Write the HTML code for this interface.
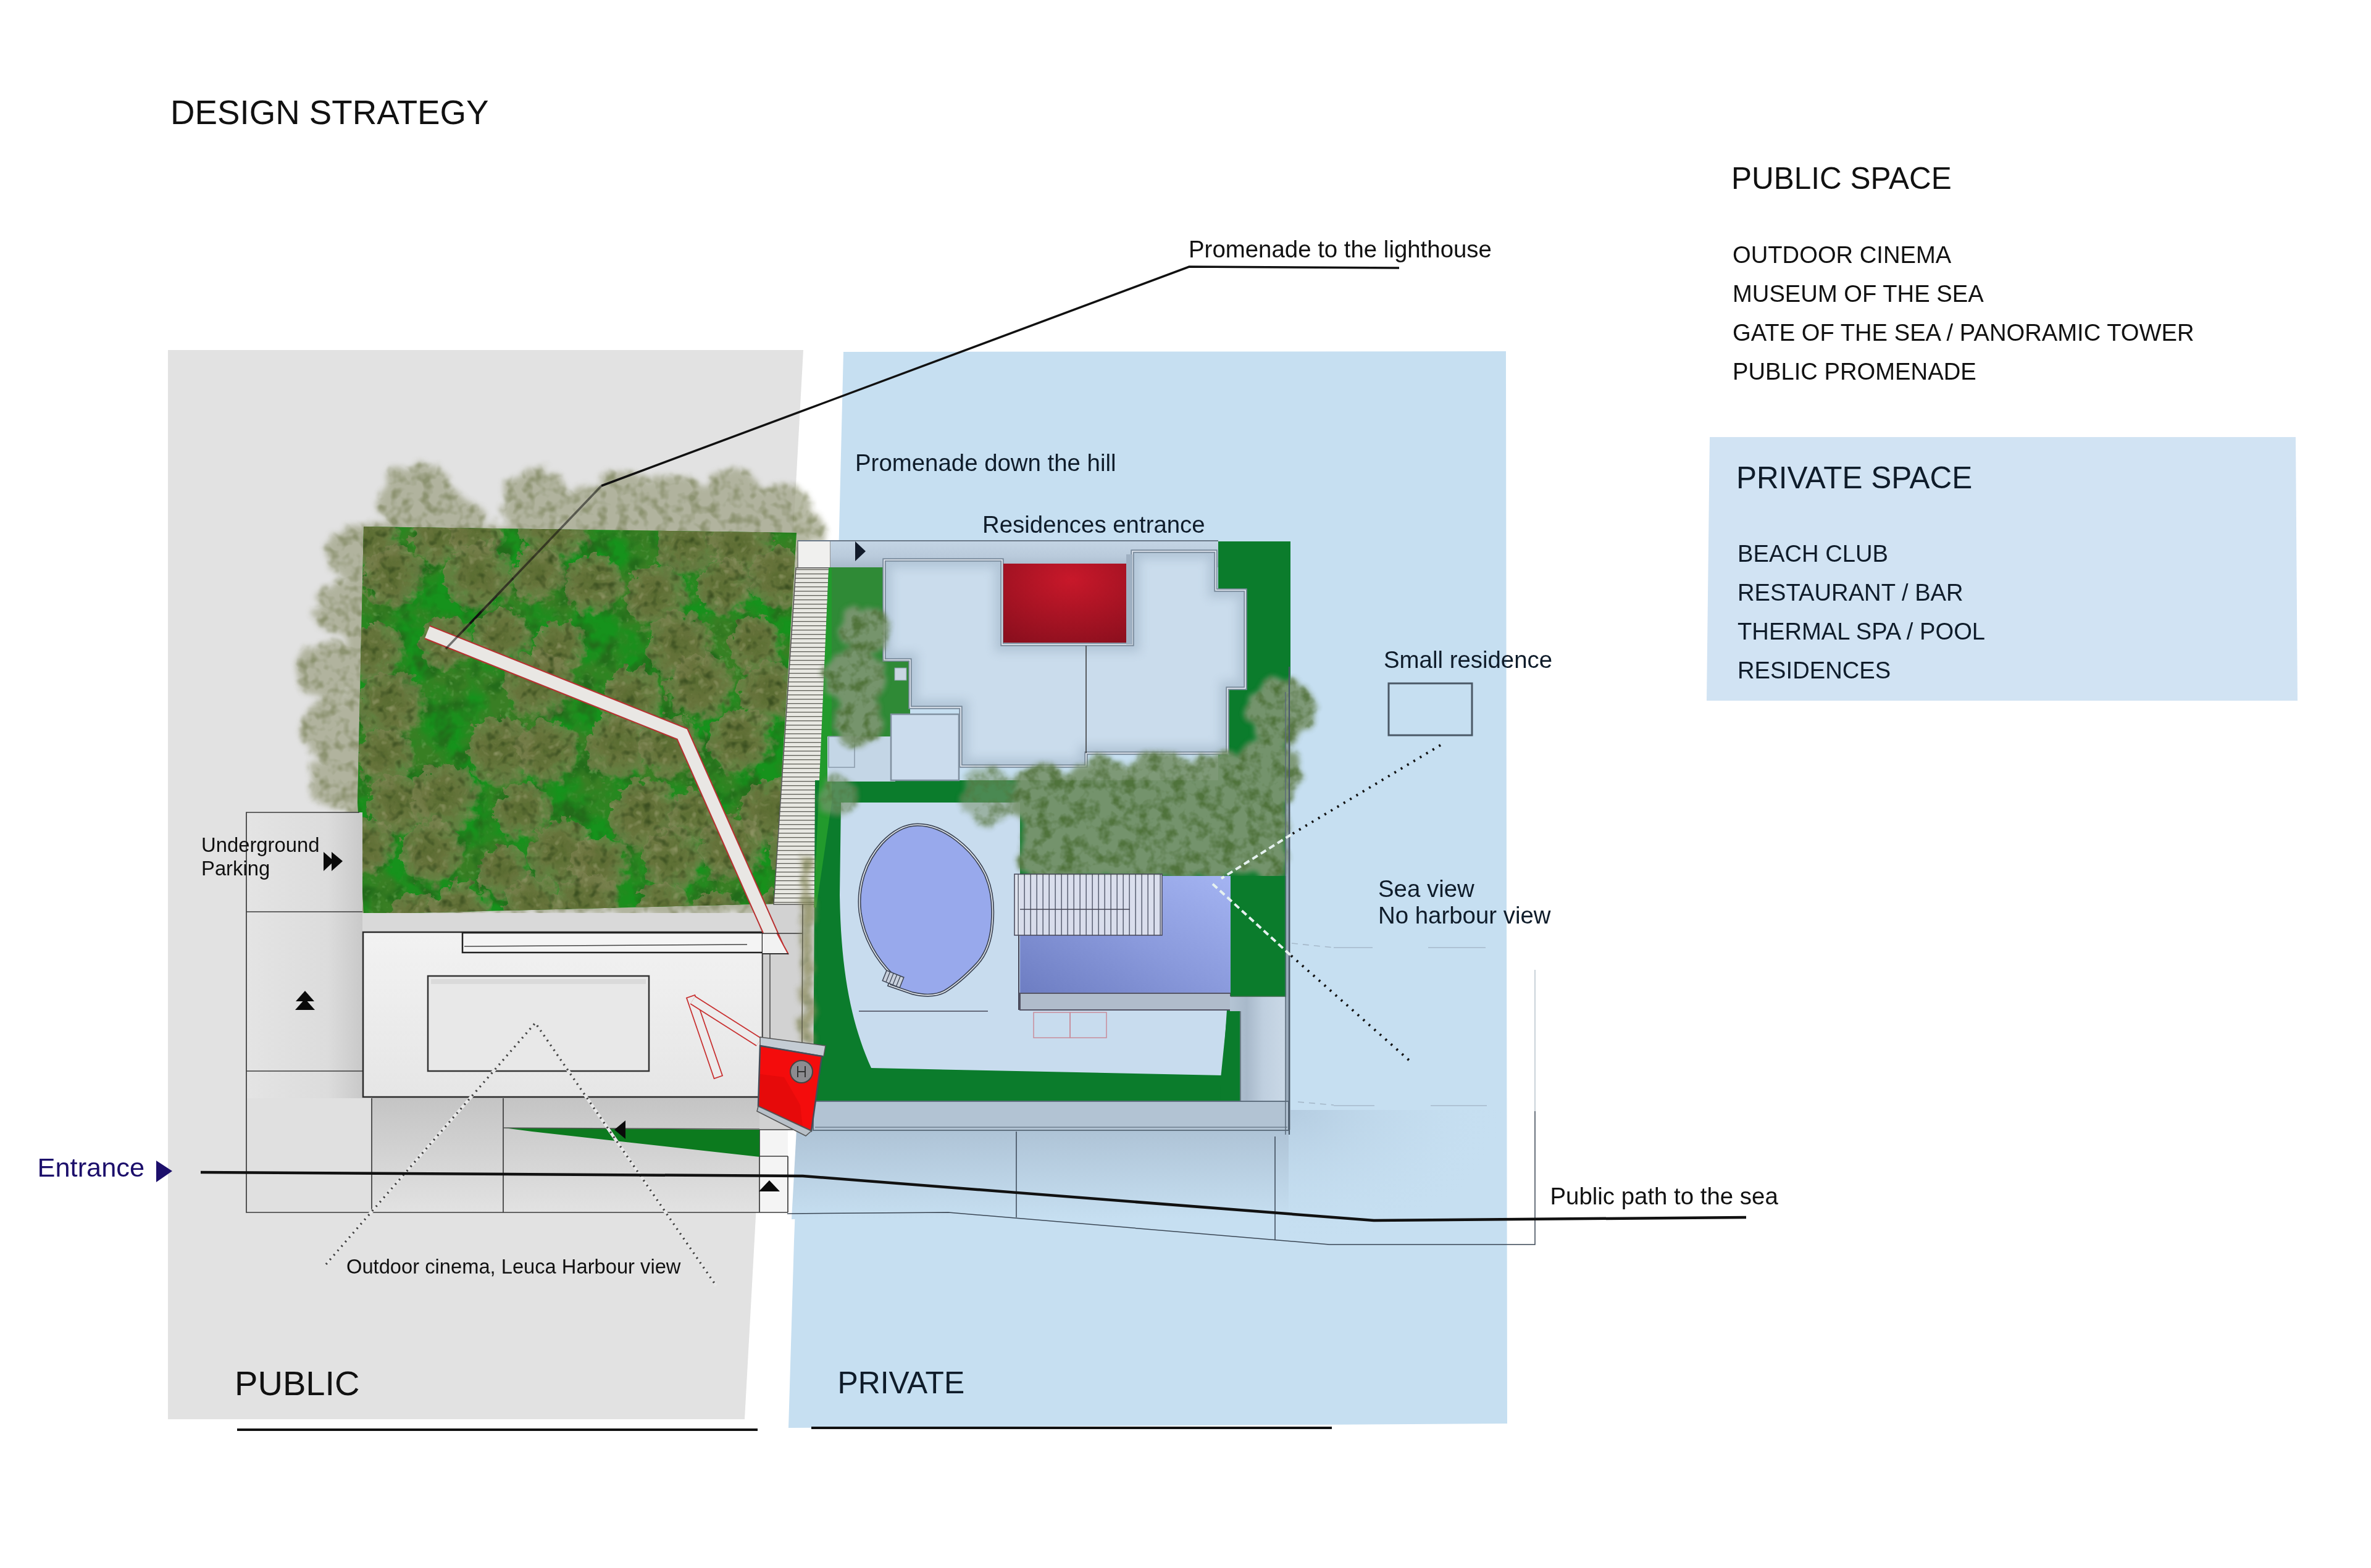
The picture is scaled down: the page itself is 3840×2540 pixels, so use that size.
<!DOCTYPE html>
<html><head><meta charset="utf-8"><title>Design Strategy</title>
<style>
html,body{margin:0;padding:0;background:#fff;width:3840px;height:2540px;overflow:hidden}
svg{display:block}
text{font-family:"Liberation Sans",sans-serif}
</style></head><body>
<svg width="3840" height="2540" viewBox="0 0 3840 2540">
<defs>
  <filter id="fol" x="0" y="0" width="100%" height="100%" filterUnits="userSpaceOnUse" color-interpolation-filters="sRGB">
    <feTurbulence type="fractalNoise" baseFrequency="0.018" numOctaves="5" seed="7" result="n"/>
    <feColorMatrix in="n" type="matrix" values="0 0 0 0 0.45  0 0 0 0 0.48  0 0 0 0 0.28  0 0 0 2.2 -0.75" result="c"/>
    <feComposite in="c" in2="SourceGraphic" operator="in"/>
  </filter>
  <radialGradient id="redg" cx="0.55" cy="0.2" r="0.9">
    <stop offset="0" stop-color="#c8182a"/><stop offset="1" stop-color="#8c0f1e"/>
  </radialGradient>
  <linearGradient id="spag" x1="0" y1="0" x2="1" y2="0">
    <stop offset="0" stop-color="#6f80c2"/><stop offset="1" stop-color="#a3b3f0"/>
  </linearGradient>
</defs>

<!-- background zones -->
<polygon points="272,567 1301,567 1206,2299 272,2299" fill="#e2e2e2"/>
<polygon points="1366,570 2439,569 2441,2306 1277,2313 1286,2010 1293,1830 1358.7,873" fill="#c6dff1"/>
<polygon points="2769,708 3718,708 3721,1135 2764,1135" fill="#d1e3f3"/>



<!-- ===== TREES / GREEN SQUARE ===== -->
<defs>
  <filter id="fol2" x="400" y="700" width="1000" height="850" filterUnits="userSpaceOnUse" color-interpolation-filters="sRGB">
    <feTurbulence type="fractalNoise" baseFrequency="0.014" numOctaves="4" seed="11" result="n"/>
    <feColorMatrix in="n" type="matrix" values="0 0 0 0 0.34  0 0 0 0 0.43  0 0 0 0 0.17  0 0 0 3.0 -1.05" result="c"/>
    <feComposite in="c" in2="SourceGraphic" operator="in" result="olive"/>
    <feTurbulence type="fractalNoise" baseFrequency="0.03" numOctaves="3" seed="5" result="nd"/>
    <feColorMatrix in="nd" type="matrix" values="0 0 0 0 0.18  0 0 0 0 0.30  0 0 0 0 0.10  0 0 0 3.4 -1.6" result="dk"/>
    <feComposite in="dk" in2="SourceGraphic" operator="in" result="dark"/>
    <feTurbulence type="fractalNoise" baseFrequency="0.11" numOctaves="2" seed="4" result="n2"/>
    <feColorMatrix in="n2" type="matrix" values="0 0 0 0 0.55  0 0 0 0 0.60  0 0 0 0 0.40  0 0 0 3.5 -2.0" result="c2"/>
    <feComposite in="c2" in2="olive" operator="in" result="speck"/>
    <feMerge><feMergeNode in="olive"/><feMergeNode in="dark"/><feMergeNode in="speck"/></feMerge>
  </filter>
  <filter id="canopy" x="400" y="700" width="1000" height="1100" filterUnits="userSpaceOnUse" color-interpolation-filters="sRGB">
    <feTurbulence type="fractalNoise" baseFrequency="0.04" numOctaves="3" seed="2" result="n"/>
    <feDisplacementMap in="SourceGraphic" in2="n" scale="30" xChannelSelector="R" yChannelSelector="G" result="d"/>
    <feGaussianBlur in="d" stdDeviation="5" result="b"/>
    <feTurbulence type="fractalNoise" baseFrequency="0.06" numOctaves="2" seed="9" result="n3"/>
    <feColorMatrix in="n3" type="matrix" values="0 0 0 0 0.46  0 0 0 0 0.49  0 0 0 0 0.32  0 0 0 3 -1.35" result="lt"/>
    <feComposite in="lt" in2="b" operator="in" result="lt2"/>
    <feMerge><feMergeNode in="b"/><feMergeNode in="lt2"/></feMerge>
  </filter>
  <clipPath id="sqclip"><polygon points="589,853 1290,863 1253,1464 589,1481 579,1300"/></clipPath>
</defs>
<g filter="url(#canopy)" fill="#a4a78c" opacity="0.78">
  <circle cx="676" cy="812" r="62"/>
  <circle cx="745" cy="845" r="40"/>
  <circle cx="870" cy="812" r="55"/>
  <circle cx="960" cy="830" r="45"/>
  <circle cx="1010" cy="812" r="52"/>
  <circle cx="1092" cy="822" r="55"/>
  <circle cx="1185" cy="818" r="56"/>
  <circle cx="1262" cy="832" r="50"/>
  <circle cx="1305" cy="858" r="28"/>
  <circle cx="568" cy="900" r="40"/>
  <circle cx="552" cy="985" r="44"/>
  <circle cx="532" cy="1085" r="50"/>
  <circle cx="540" cy="1180" r="50"/>
  <circle cx="548" cy="1265" r="45"/>
  <circle cx="600" cy="1300" r="40"/>
  <rect x="560" y="850" width="740" height="630"/>
</g>
<polygon points="589,853 1290,863 1253,1464 589,1481 579,1300" fill="#16921c"/>
<defs>
  <radialGradient id="crown" cx="0.45" cy="0.45" r="0.55">
    <stop offset="0" stop-color="#5c6a32" stop-opacity="0.95"/>
    <stop offset="0.45" stop-color="#6c733e" stop-opacity="0.92"/>
    <stop offset="0.8" stop-color="#7c8050" stop-opacity="0.7"/>
    <stop offset="1" stop-color="#8a8c60" stop-opacity="0"/>
  </radialGradient>
  <filter id="crownf" x="500" y="780" width="850" height="760" filterUnits="userSpaceOnUse" color-interpolation-filters="sRGB">
    <feTurbulence type="fractalNoise" baseFrequency="0.06" numOctaves="3" seed="3" result="n"/>
    <feDisplacementMap in="SourceGraphic" in2="n" scale="34" xChannelSelector="R" yChannelSelector="G" result="d"/>
    <feTurbulence type="fractalNoise" baseFrequency="0.07" numOctaves="2" seed="14" result="n2"/>
    <feColorMatrix in="n2" type="matrix" values="0 0 0 0 0.58  0 0 0 0 0.60  0 0 0 0 0.42  0 0 0 3.0 -1.85" result="c2"/>
    <feComposite in="c2" in2="d" operator="in" result="speck"/>
    <feColorMatrix in="n2" type="matrix" values="0 0 0 0 0.22  0 0 0 0 0.30  0 0 0 0 0.12  0 0 0 -3.2 1.45" result="c3"/>
    <feComposite in="c3" in2="d" operator="in" result="shade"/>
    <feMerge><feMergeNode in="d"/><feMergeNode in="shade"/><feMergeNode in="speck"/></feMerge>
  </filter>
</defs>
<g clip-path="url(#sqclip)">
  <rect x="560" y="840" width="760" height="660" fill="#fff" filter="url(#fol2)" opacity="0.55"/>
  <line x1="722" y1="1051" x2="974" y2="787" stroke="#111" stroke-width="3.5"/>
  <g fill="url(#crown)" filter="url(#crownf)">
<circle cx="601" cy="878" r="49"/>
<circle cx="715" cy="874" r="46"/>
<circle cx="774" cy="860" r="48"/>
<circle cx="900" cy="857" r="59"/>
<circle cx="1118" cy="882" r="55"/>
<circle cx="1203" cy="885" r="53"/>
<circle cx="639" cy="935" r="52"/>
<circle cx="778" cy="937" r="57"/>
<circle cx="874" cy="932" r="45"/>
<circle cx="964" cy="947" r="50"/>
<circle cx="1065" cy="969" r="53"/>
<circle cx="1176" cy="954" r="48"/>
<circle cx="1266" cy="939" r="53"/>
<circle cx="609" cy="1059" r="49"/>
<circle cx="723" cy="1044" r="44"/>
<circle cx="814" cy="1034" r="48"/>
<circle cx="907" cy="1051" r="45"/>
<circle cx="1104" cy="1049" r="56"/>
<circle cx="1226" cy="1045" r="47"/>
<circle cx="634" cy="1144" r="57"/>
<circle cx="874" cy="1111" r="57"/>
<circle cx="1027" cy="1135" r="53"/>
<circle cx="1137" cy="1114" r="56"/>
<circle cx="1249" cy="1124" r="53"/>
<circle cx="626" cy="1228" r="49"/>
<circle cx="814" cy="1220" r="58"/>
<circle cx="890" cy="1220" r="53"/>
<circle cx="1006" cy="1211" r="56"/>
<circle cx="1089" cy="1211" r="52"/>
<circle cx="1201" cy="1203" r="55"/>
<circle cx="647" cy="1305" r="52"/>
<circle cx="723" cy="1295" r="57"/>
<circle cx="848" cy="1316" r="48"/>
<circle cx="1048" cy="1323" r="60"/>
<circle cx="1128" cy="1323" r="44"/>
<circle cx="1252" cy="1316" r="54"/>
<circle cx="596" cy="1374" r="47"/>
<circle cx="702" cy="1383" r="53"/>
<circle cx="818" cy="1414" r="44"/>
<circle cx="914" cy="1386" r="57"/>
<circle cx="974" cy="1403" r="49"/>
<circle cx="1091" cy="1395" r="52"/>
<circle cx="1188" cy="1376" r="55"/>
<circle cx="1289" cy="1380" r="47"/>
<circle cx="677" cy="1494" r="49"/>
<circle cx="746" cy="1482" r="52"/>
<circle cx="865" cy="1466" r="47"/>
<circle cx="952" cy="1473" r="58"/>
<circle cx="1076" cy="1477" r="47"/>
<circle cx="1162" cy="1493" r="49"/>
<circle cx="1264" cy="1492" r="49"/>
  </g>
</g>

<!-- ===== PUBLIC PLAN ===== -->
<g id="pub">
  <!-- parking base shading -->
  <defs>
    <linearGradient id="park1" x1="0" y1="0" x2="1" y2="0">
      <stop offset="0" stop-color="#e4e4e4"/><stop offset="0.7" stop-color="#dcdcdc"/><stop offset="1" stop-color="#c9c9c9"/>
    </linearGradient>
    <linearGradient id="bldg" x1="0" y1="0" x2="0" y2="1">
      <stop offset="0" stop-color="#f2f2f2"/><stop offset="1" stop-color="#e6e6e6"/>
    </linearGradient>
    <linearGradient id="under" x1="0" y1="0" x2="0" y2="1">
      <stop offset="0" stop-color="#c4c4c4"/><stop offset="1" stop-color="#e2e2e2"/>
    </linearGradient>
  </defs>
  <rect x="399" y="1316" width="188" height="463" fill="url(#park1)"/>
  <rect x="399" y="1779" width="203" height="185" fill="#e0e0e0"/>
  <rect x="587" y="1479" width="700" height="35" fill="#d9d9d9"/>
  <rect x="602" y="1777" width="628" height="187" fill="url(#under)"/>
  <polygon points="1230,1465 1322,1465 1317,1790 1290,1830 1230,1830" fill="#d2d2d2"/>
  <rect x="1230" y="1830" width="46" height="134" fill="#f4f4f4"/>
  <!-- grid lines -->
  <g fill="none" stroke="#3a3a3a" stroke-width="1.7">
    <polyline points="582,1316 399,1316 399,1964 1276,1964"/>
    <line x1="399" y1="1477" x2="587" y2="1477"/>
    <line x1="399" y1="1735" x2="587" y2="1735"/>
    <line x1="602" y1="1779" x2="602" y2="1964"/>
    <line x1="815" y1="1779" x2="815" y2="1964"/>
    <line x1="1230" y1="1830" x2="1230" y2="1964"/>
    <line x1="1276" y1="1873" x2="1276" y2="1964"/>
    <line x1="1230" y1="1873" x2="1276" y2="1873"/>
    <line x1="1230" y1="1830" x2="1285" y2="1830"/>
  </g>
  <!-- building -->
  <rect x="588" y="1510" width="647" height="267" fill="url(#bldg)" stroke="#2a2a2a" stroke-width="2.5"/>
  <rect x="693" y="1581" width="358" height="154" fill="#e8e8e8" stroke="#333" stroke-width="2.5"/>
  <rect x="698" y="1586" width="348" height="8" fill="#d0d0d0" opacity="0.6"/>
  <rect x="749" y="1511" width="486" height="32" fill="#f4f4f4" stroke="#222" stroke-width="2.5"/>
  <line x1="752" y1="1533" x2="1210" y2="1530" stroke="#444" stroke-width="1.5"/>
  <rect x="1235" y="1545" width="12" height="150" fill="#cfcfcf" stroke="#444" stroke-width="1.5"/>
  <!-- green wedge under building -->
  <polygon points="816,1827 1230,1830 1230,1874 862,1833" fill="#0c7a1e"/>
  <line x1="816" y1="1827" x2="1230" y2="1829" stroke="#555" stroke-width="1.5"/>
</g>


<!-- ===== PROMENADE BAR + STAIRS ===== -->
<polyline points="692,1024 1105,1189 1258,1534" fill="none" stroke="#b83030" stroke-width="24" stroke-linejoin="miter"/>
<polyline points="692,1024 1105,1189 1258,1534" fill="none" stroke="#e9e7e4" stroke-width="20" stroke-linejoin="miter"/>
<polygon points="1235,1512 1258,1512 1276,1545 1235,1545" fill="#f2f2f2"/>
<line x1="1258" y1="1511" x2="1277" y2="1546" stroke="#c03030" stroke-width="2"/>
<line x1="1235" y1="1545" x2="1277" y2="1545" stroke="#333" stroke-width="2"/>
<line x1="1235" y1="1512" x2="1300" y2="1512" stroke="#333" stroke-width="1.5"/>
<defs>
  <pattern id="hatch" x="0" y="0" width="20" height="7" patternUnits="userSpaceOnUse">
    <rect width="20" height="7" fill="#e8e8e2"/><rect y="5" width="20" height="1.3" fill="#5e5e56"/>
  </pattern>
  <pattern id="vhatch" x="0" y="0" width="10" height="20" patternUnits="userSpaceOnUse">
    <rect width="10" height="20" fill="#e2e5ee"/><rect x="8.5" width="1.3" height="20" fill="#3c4250"/>
  </pattern>
</defs>
<rect x="1292" y="876" width="53" height="44" fill="#f0f0ee" stroke="#777" stroke-width="1.5"/>
<polygon points="1289,920 1343,920 1320,1465 1253,1465" fill="url(#hatch)"/>
<polygon points="1289,920 1343,920 1320,1465 1253,1465" fill="none" stroke="#555" stroke-width="1.5"/>

<!-- ===== PRIVATE PLAN ===== -->
<defs>
  <linearGradient id="topstrip" x1="0" y1="0" x2="0" y2="1">
    <stop offset="0" stop-color="#c4d5e5"/><stop offset="0.6" stop-color="#b9cadb"/><stop offset="1" stop-color="#a8bacb"/>
  </linearGradient>
  <linearGradient id="spa" x1="0" y1="1" x2="1" y2="0">
    <stop offset="0" stop-color="#6d7dc2"/><stop offset="0.5" stop-color="#8a9adc"/><stop offset="1" stop-color="#a4b4f2"/>
  </linearGradient>
  <linearGradient id="undershadow" x1="0" y1="0" x2="0" y2="1">
    <stop offset="0" stop-color="#aec3d6"/><stop offset="1" stop-color="#c6dff1"/>
  </linearGradient>
  <filter id="fol3" x="1250" y="850" width="950" height="620" filterUnits="userSpaceOnUse" color-interpolation-filters="sRGB">
    <feTurbulence type="fractalNoise" baseFrequency="0.03" numOctaves="4" seed="21" result="n"/>
    <feDisplacementMap in="SourceGraphic" in2="n" scale="26" xChannelSelector="R" yChannelSelector="G" result="d"/>
    <feGaussianBlur in="d" stdDeviation="4" result="b"/>
    <feTurbulence type="fractalNoise" baseFrequency="0.05" numOctaves="3" seed="8" result="n3"/>
    <feColorMatrix in="n3" type="matrix" values="0 0 0 0 0.33  0 0 0 0 0.45  0 0 0 0 0.24  0 0 0 3 -1.3" result="dk"/>
    <feComposite in="dk" in2="b" operator="in" result="dk2"/>
    <feMerge><feMergeNode in="b"/><feMergeNode in="dk2"/></feMerge>
  </filter>
</defs>
<!-- shadow under bottom strip -->
<polygon points="1290,1830 2087,1830 2087,1975 1282,1975" fill="url(#undershadow)"/>
<rect x="2087" y="1798" width="352" height="220" fill="url(#rshadow)"/>
<!-- top strip -->
<rect x="1345" y="876" width="628" height="43" fill="url(#topstrip)"/>
<line x1="1292" y1="876" x2="1973" y2="876" stroke="#6a7888" stroke-width="2"/>
<!-- green areas -->
<polygon points="1973,877 2090,877 2090,1121 2082,1121 2082,1790 1317,1790 1320,1264 1973,1264" fill="#0b7c2c"/>
<rect x="2082" y="1121" width="8" height="709" fill="#9aabbb"/>
<polygon points="1343,919 1432,919 1432,1069 1474,1069 1474,1157 1445,1157 1445,1193 1343,1193" fill="#2f8a36"/>
<rect x="1449" y="1082" width="19" height="20" fill="#c8d6e2" stroke="#8a9aa8" stroke-width="1"/>
<polygon points="1342,920 1347,920 1347,1300 1322,1470 1318,1470" fill="#229a2c"/>
<rect x="1340" y="1193" width="110" height="73" fill="#c4d6e6"/>
<rect x="1342" y="1193" width="42" height="50" fill="none" stroke="#8898a8" stroke-width="1.5"/>
<!-- residence building -->
<polygon points="1432,907 1623,907 1623,1044 1834,1044 1834,893 1969,893 1969,956 2017,956 2017,1115 1988,1115 1988,1220 1759,1220 1759,1241 1556,1241 1556,1146 1474,1146 1474,1069 1432,1069" fill="#cadcec" stroke="#7b8b9c" stroke-width="5"/>
<polygon points="1432,907 1623,907 1623,1044 1834,1044 1834,893 1969,893 1969,956 2017,956 2017,1115 1988,1115 1988,1220 1759,1220 1759,1241 1556,1241 1556,1146 1474,1146 1474,1069 1432,1069" fill="none" stroke="#eef4fa" stroke-width="1.5"/>
<defs>
  <clipPath id="resclip"><polygon points="1432,907 1623,907 1623,1044 1834,1044 1834,893 1969,893 1969,956 2017,956 2017,1115 1988,1115 1988,1220 1759,1220 1759,1241 1556,1241 1556,1146 1474,1146 1474,1069 1432,1069"/></clipPath>
  <filter id="blur8" x="-10%" y="-10%" width="120%" height="120%"><feGaussianBlur stdDeviation="8"/></filter>
</defs>
<g clip-path="url(#resclip)">
  <polygon points="1432,907 1623,907 1623,1044 1834,1044 1834,893 1969,893 1969,956 2017,956 2017,1115 1988,1115 1988,1220 1759,1220 1759,1241 1556,1241 1556,1146 1474,1146 1474,1069 1432,1069" fill="none" stroke="#8096ab" stroke-width="24" opacity="0.32" filter="url(#blur8)"/>
</g>
<polygon points="1432,907 1623,907 1623,1044 1834,1044 1834,893 1969,893 1969,956 2017,956 2017,1115 1988,1115 1988,1220 1759,1220 1759,1241 1556,1241 1556,1146 1474,1146 1474,1069 1432,1069" fill="none" stroke="#7b8b9c" stroke-width="5"/>
<polygon points="1432,907 1623,907 1623,1044 1834,1044 1834,893 1969,893 1969,956 2017,956 2017,1115 1988,1115 1988,1220 1759,1220 1759,1241 1556,1241 1556,1146 1474,1146 1474,1069 1432,1069" fill="none" stroke="#eef4fa" stroke-width="1.5"/>
<rect x="1443" y="1157" width="110" height="107" fill="#cbdced" stroke="#8090a0" stroke-width="2.5"/>
<line x1="1759" y1="1046" x2="1759" y2="1220" stroke="#333" stroke-width="1.5"/>
<rect x="1625" y="913" width="199" height="128" fill="url(#redg)"/>
<rect x="1824" y="898" width="10" height="146" fill="#9fb0c2"/>
<!-- courtyard deck -->
<path d="M1362,1300 L1652,1300 L1652,1636 L1987,1636 L1980,1742 L1411,1730 C1380,1660 1362,1580 1360,1450 Z" fill="#c8dcee"/>
<!-- trees -->
<g filter="url(#fol3)" fill="#7b9570" opacity="0.95">
  <circle cx="1690" cy="1290" r="50"/>
  <circle cx="1780" cy="1300" r="70"/>
  <circle cx="1880" cy="1290" r="72"/>
  <circle cx="1975" cy="1290" r="70"/>
  <circle cx="2050" cy="1250" r="55"/>
  <circle cx="2075" cy="1150" r="55"/>
  <circle cx="1720" cy="1380" r="45"/>
  <circle cx="2020" cy="1380" r="40"/>
  <rect x="1652" y="1250" width="430" height="169"/>
  <circle cx="1600" cy="1290" r="45" opacity="0.6"/>
  <circle cx="1360" cy="1290" r="30" opacity="0.7"/>
  <circle cx="1385" cy="1100" r="50"/>
  <circle cx="1390" cy="1170" r="40"/>
  <circle cx="1400" cy="1020" r="40"/>
</g>
<g filter="url(#canopy)" fill="#8c8c5c" opacity="0.75">
  <rect x="1299" y="1390" width="16" height="300"/>
</g>
<line x1="1300" y1="1465" x2="1299" y2="1690" stroke="#5a5a48" stroke-width="1.5"/>
<!-- spa -->
<rect x="1652" y="1419" width="341" height="190" fill="url(#spa)"/>
<rect x="1643" y="1416" width="239" height="99" fill="url(#vhatch)" opacity="0.9"/>
<rect x="1643" y="1416" width="239" height="99" fill="none" stroke="#445" stroke-width="1.5"/>
<line x1="1652" y1="1473" x2="1830" y2="1473" stroke="#445" stroke-width="1.5"/>
<rect x="1652" y="1609" width="341" height="27" fill="#b0bccb" stroke="#556" stroke-width="2"/>
<line x1="1650" y1="1515" x2="1650" y2="1636" stroke="#445" stroke-width="2"/>
<rect x="1993" y="1419" width="90" height="196" fill="#0b7c2c"/>
<defs>
  <linearGradient id="rdeck" x1="0" y1="0" x2="1" y2="0">
    <stop offset="0" stop-color="#b4c4d4"/><stop offset="0.3" stop-color="#a8b9ca"/><stop offset="0.6" stop-color="#bfcfdf"/><stop offset="1" stop-color="#cad9e7"/>
  </linearGradient>
  <radialGradient id="rshadow" cx="0" cy="0" r="1">
    <stop offset="0" stop-color="#a9c0d6" stop-opacity="0.6"/><stop offset="1" stop-color="#c6dff1" stop-opacity="0"/>
  </radialGradient>
</defs>
<rect x="1992" y="1614" width="90" height="174" fill="url(#rdeck)"/>
<polygon points="1988,1638 2008,1638 2008,1788 1976,1788 1977.5,1742" fill="#0b7c2c"/>
<line x1="2009" y1="1638" x2="2009" y2="1788" stroke="#5a6a70" stroke-width="1.5"/>
<line x1="1993" y1="1614" x2="2082" y2="1614" stroke="#3d6a4a" stroke-width="1.5"/>
<!-- pool -->
<path d="M1486,1336 C1530,1336 1575,1375 1595,1415 C1607,1440 1609,1470 1607,1495 C1605,1525 1595,1548 1582,1562 C1565,1580 1550,1594 1530,1606 C1515,1614 1495,1613 1478,1609 L1440,1596 L1446,1580 C1420,1555 1399,1520 1393,1478 C1388,1435 1402,1395 1428,1366 C1445,1348 1465,1336 1486,1336 Z" fill="#98a9ec" stroke="#3e4656" stroke-width="5"/>
<path d="M1486,1336 C1530,1336 1575,1375 1595,1415 C1607,1440 1609,1470 1607,1495 C1605,1525 1595,1548 1582,1562 C1565,1580 1550,1594 1530,1606 C1515,1614 1495,1613 1478,1609 L1440,1596 L1446,1580 C1420,1555 1399,1520 1393,1478 C1388,1435 1402,1395 1428,1366 C1445,1348 1465,1336 1486,1336 Z" fill="none" stroke="#e8eef4" stroke-width="1.6"/>
<g transform="translate(1436,1572) rotate(22)">
  <rect x="0" y="0" width="30" height="18" fill="#c8d0dc" stroke="#3e4656" stroke-width="1.5"/>
  <path d="M6,0 V18 M12,0 V18 M18,0 V18 M24,0 V18" stroke="#3e4656" stroke-width="1.3"/>
</g>
<line x1="1391" y1="1638" x2="1600" y2="1638" stroke="#445" stroke-width="1.5"/>
<g fill="none" stroke="#c98c9a" stroke-width="1.5">
  <rect x="1674" y="1640" width="59" height="41"/><rect x="1733" y="1640" width="59" height="41"/>
</g>
<!-- bottom strip -->
<rect x="1317" y="1784" width="770" height="47" fill="#b2c3d3" stroke="#607080" stroke-width="2"/>
<line x1="1320" y1="1826" x2="2085" y2="1826" stroke="#6e7e8e" stroke-width="1.5"/>
<line x1="2088" y1="1080" x2="2088" y2="1838" stroke="#4a5a6a" stroke-width="2.2"/>
<line x1="2082" y1="1121" x2="2082" y2="1838" stroke="#5a6a7a" stroke-width="1.5"/>
<!-- lines below -->
<g fill="none" stroke="#3a4654" stroke-width="1.5">
  <polyline points="1275,1966 1536,1964 2153,2016 2486,2016 2486,1800"/>
  <line x1="2486" y1="1800" x2="2486" y2="1571" stroke="#b8c4cc" stroke-width="1.5"/>
  <line x1="1646" y1="1833" x2="1646" y2="1972"/>
  <line x1="2065" y1="1841" x2="2065" y2="2008"/>
</g>
<g stroke="#a6b9ca" stroke-width="1.6" fill="none">
  <line x1="2092" y1="1528" x2="2160" y2="1535" stroke-dasharray="10 8"/><line x1="2160" y1="1535" x2="2223" y2="1535"/><line x1="2313" y1="1535" x2="2406" y2="1535"/>
  <line x1="2102" y1="1785" x2="2160" y2="1790" stroke-dasharray="10 8"/><line x1="2160" y1="1791" x2="2226" y2="1791"/><line x1="2317" y1="1791" x2="2408" y2="1791"/>
</g>
<!-- entrance marker -->
<polygon points="1385,877 1402,893 1385,909" fill="#111a2a"/>
<!-- sight lines -->
<g fill="none" stroke-width="4">
  <line x1="2333" y1="1207" x2="2091" y2="1352" stroke="#111" stroke-dasharray="3 9"/>
  <line x1="2091" y1="1352" x2="1978" y2="1423" stroke="#e6f2f0" stroke-dasharray="10 6"/>
  <line x1="1964" y1="1432" x2="2091" y2="1548" stroke="#e6f2f0" stroke-dasharray="10 6"/>
  <line x1="2091" y1="1548" x2="2285" y2="1720" stroke="#111" stroke-dasharray="3 9"/>
</g>


<!-- ===== CINEMA TOWER / MARKERS ===== -->
<g>
  <polyline points="1121,1621 1161,1738" fill="none" stroke="#c83030" stroke-width="16" stroke-linecap="square"/>
  <polyline points="1121,1621 1161,1738" fill="none" stroke="#ececec" stroke-width="12.5" stroke-linecap="square"/>
  <polyline points="1122,1620 1229,1688" fill="none" stroke="#c83030" stroke-width="16"/>
  <polyline points="1122,1620 1229,1688" fill="none" stroke="#ececec" stroke-width="12.5"/>
  <polygon points="1231,1680 1337,1694 1334,1711 1231,1694" fill="#c4ccd4" stroke="#555" stroke-width="1.5"/>
  <polygon points="1231,1694 1331,1711 1314,1832 1228,1792" fill="#f40c0c" stroke="#444c58" stroke-width="2.5"/>
  <polygon points="1231,1740 1270,1745 1296,1790 1300,1826 1230,1792" fill="#d80808" opacity="0.5"/>
  <polygon points="1228,1792 1314,1832 1305,1840 1226,1800" fill="#b8c0c8" stroke="#555" stroke-width="1.5"/>
  <circle cx="1298" cy="1736" r="18" fill="#8c8c90" stroke="#444" stroke-width="2"/>
  <path d="M1292,1727 L1292,1745 M1304,1727 L1304,1745 M1292,1736 L1304,1736" stroke="#333" stroke-width="2" fill="none"/>
</g>
<!-- dotted cinema view triangle -->
<g fill="none">
  <polyline points="528,2048 867,1657 1160,2083" stroke="#e8e8e8" stroke-width="5"/>
  <polyline points="528,2048 867,1657 1160,2083" stroke="#444" stroke-width="3.5" stroke-dasharray="2.5 7"/>
</g>
<!-- arrows -->
<g fill="#0a0a0a">
  <polygon points="524,1380 541,1395 524,1411"/>
  <polygon points="537,1380 555,1395 537,1411"/>
  <polygon points="494,1605 509,1622 479,1622"/>
  <polygon points="494,1618 510,1636 478,1636"/>
  <polygon points="995,1830 1013,1815 1013,1845"/>
  <polygon points="1246,1912 1263,1930 1229,1930"/>
</g>

<!-- TITLE + legend -->
<text x="276" y="200.5" font-size="54.7" fill="#111">DESIGN STRATEGY</text>
<text x="2804" y="306" font-size="49.5" fill="#111">PUBLIC SPACE</text>
<g font-size="38.2" fill="#111">
<text x="2806" y="425.5">OUTDOOR CINEMA</text>
<text x="2806" y="488.8">MUSEUM OF THE SEA</text>
<text x="2806" y="552">GATE OF THE SEA / PANORAMIC TOWER</text>
<text x="2806" y="615.4">PUBLIC PROMENADE</text>
</g>
<text x="2812" y="791" font-size="49.5" fill="#0f1c2a">PRIVATE SPACE</text>
<g font-size="38.2" fill="#0f1c2a">
<text x="2814" y="910">BEACH CLUB</text>
<text x="2814" y="973">RESTAURANT / BAR</text>
<text x="2814" y="1036">THERMAL SPA / POOL</text>
<text x="2814" y="1099">RESIDENCES</text>
</g>

<!-- labels -->
<g font-size="38.4" fill="#111">
<text x="1925" y="417">Promenade to the lighthouse</text>
<text x="1385" y="763" fill="#0f1c2a">Promenade down the hill</text>
<text x="1591" y="863" fill="#0f1c2a">Residences entrance</text>
<text x="2241" y="1081.5" fill="#0f1c2a">Small residence</text>
<text x="2232" y="1453" fill="#0f1c2a">Sea view</text>
<text x="2232" y="1496" fill="#0f1c2a">No harbour view</text>
<text x="2510.5" y="1950.5">Public path to the sea</text>
</g>
<text x="60.5" y="1905.5" font-size="43.4" fill="#1c0f6b">Entrance</text>
<text x="561" y="2062.5" font-size="32.7" fill="#111">Outdoor cinema, Leuca Harbour view</text>
<text x="380" y="2260" font-size="56.1" fill="#111">PUBLIC</text>
<text x="1356.5" y="2257" font-size="49.8" fill="#0f1c2a">PRIVATE</text>
<text x="326" y="1380" font-size="32.8" fill="#111">Underground</text>
<text x="326" y="1417.5" font-size="32.8" fill="#111">Parking</text>

<!-- underlines -->
<line x1="384" y1="2316" x2="1227" y2="2316" stroke="#111" stroke-width="4"/>
<line x1="1314" y1="2313" x2="2157" y2="2313" stroke="#111" stroke-width="4"/>

<!-- leader line lighthouse -->
<polyline points="974,787 1926,432 2266,434" fill="none" stroke="#111" stroke-width="3.5"/>
<line x1="722" y1="1051" x2="974" y2="787" stroke="#111" stroke-width="3.5" opacity="0.55"/>
<!-- entrance path -->
<polyline points="325,1899 1300,1905 2225,1977 2828,1972" fill="none" stroke="#111" stroke-width="4.5"/>
<polygon points="253,1880 279,1897 253,1915" fill="#1c0f6b"/>

<!-- small residence -->
<rect x="2249" y="1107" width="135" height="84" fill="none" stroke="#4a5866" stroke-width="3"/>

</svg>
</body></html>
